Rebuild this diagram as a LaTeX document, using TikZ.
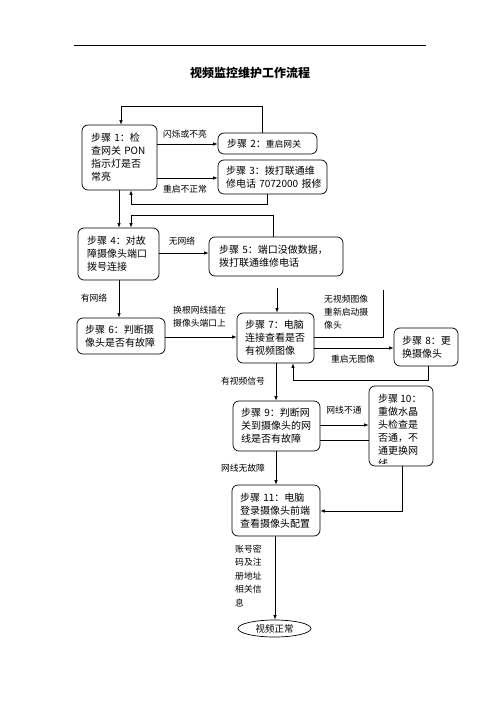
\documentclass[tikz,border=0pt]{standalone}
\usepackage{fontspec}
\setmainfont{Noto Sans CJK SC}
\usetikzlibrary{arrows.meta,shapes.geometric}
\begin{document}
\begin{tikzpicture}[x=1pt,y=-1pt,
  box/.style={draw, line width=0.7pt, rounded corners=6pt, align=left, inner xsep=9pt, inner ysep=0pt, font=\fontsize{10}{13}\selectfont, anchor=center},
  lbl/.style={font=\fontsize{8.8}{13}\selectfont, inner sep=0pt},
  arr/.style={line width=0.6pt, -{Latex[length=4.5pt,width=3.4pt]}},
  ln/.style={line width=0.6pt}]
\useasboundingbox (0,0) rectangle (500,708);
\draw[line width=0.6pt] (74,45) -- (426,45);
\node[font=\fontsize{12}{14}\selectfont\bfseries] (title) at (250,73) {视频监控维护工作流程};
% boxes
\node[box, minimum width=75pt, minimum height=65pt, text width=57pt] (b1) at (119.5,157.5) {步骤~1：检\\查网关~PON\\指示灯是否\\常亮};
\node[box, minimum width=99pt, minimum height=21pt, text width=81pt] (b2) at (267.5,143.5) {步骤~2：{\fontsize{8.8}{13}\selectfont 重启网关}};
\node[box, minimum width=109pt, minimum height=34pt, text width=93pt, inner xsep=8pt] (b3) at (272.5,177) {步骤~3：拨打联通维\\修电话~7072000~报修};
\node[box, minimum width=81pt, minimum height=52pt, text width=63pt] (b4) at (118.5,254) {步骤~4：对故\\障摄像头端口\\拨号连接};
\node[box, minimum width=134pt, minimum height=39pt, text width=114pt, inner xsep=10pt] (b5) at (276,256.5) {步骤~5：端口没做数据，\\拨打联通维修电话};
\node[box, minimum width=88pt, minimum height=36pt, text width=72pt, inner xsep=8pt] (b6) at (121,336) {步骤~6：判断摄\\像头是否有故障};
\node[box, minimum width=77pt, minimum height=50pt, text width=61pt, inner xsep=8pt] (b7) at (275.5,338) {步骤~7：电脑\\连接查看是否\\有视频图像};
\node[box, minimum width=64pt, minimum height=38pt, text width=48pt, inner xsep=8pt] (b8) at (426,347) {步骤~8：更\\换摄像头};
\node[box, minimum width=87pt, minimum height=50pt, text width=71pt, inner xsep=8pt] (b9) at (276.5,426) {步骤~9：判断网\\关到摄像头的网\\线是否有故障};
\node[box, minimum width=64pt, minimum height=80pt, text width=48pt, inner xsep=8pt] (b10) at (401,426) {};
\begin{scope}
\clip (370,387) rectangle (432,463);
\node[anchor=north west, align=left, inner sep=0pt, font=\fontsize{10}{13}\selectfont] (t10) at (378,394) {步骤~10：\\重做水晶\\头检查是\\否通，不\\通更换网\\线};
\end{scope}
\node[box, minimum width=88pt, minimum height=51pt, text width=72pt, inner xsep=8pt] (b11) at (276,510.5) {步骤~11：电脑\\登录摄像头前端\\查看摄像头配置};
\node[draw, line width=0.7pt, ellipse, minimum width=73pt, minimum height=17pt, inner sep=0pt, font=\fontsize{9.5}{12}\selectfont] (e) at (274.5,628.5) {视频正常};
% labels
\node[lbl] (l1) at (185,134) {闪烁或不亮};
\node[lbl] (l2) at (185,189) {重启不正常};
\node[lbl] (l3) at (182,241) {无网络};
\node[lbl] (l4) at (94,298) {有网络};
\node[lbl, align=left, anchor=west] (l5) at (173,316.5) {换根网线插在\\摄像头端口上};
\node[lbl, align=left, anchor=west] (l6) at (324,312) {无视频图像\\重新启动摄\\像头};
\node[lbl] (l7) at (353,359) {重启无图像};
\node[lbl] (l8) at (243,381) {有视频信号};
\node[lbl] (l9) at (344,410) {网线不通};
\node[lbl] (l10) at (243,468) {网线无故障};
\node[lbl, align=left, anchor=west, font=\fontsize{8.8}{13.5}\selectfont] (l11) at (235,576) {账号密\\码及注\\册地址\\相关信\\息};
% helper coordinates
\coordinate (h106) at (0,106);
\coordinate (h144) at (0,144);
\coordinate (h178) at (0,178);
\coordinate (h204) at (0,204);
\coordinate (h215) at (0,215);
\coordinate (h253) at (0,253);
\coordinate (h337) at (0,337);
\coordinate (h348) at (0,348);
\coordinate (h380) at (0,380);
\coordinate (h425) at (0,425);
\coordinate (h440) at (0,440);
\coordinate (h511) at (0,511);
\coordinate (v119) at (119,0);
\coordinate (v121) at (121,0);
\coordinate (v131) at (131,0);
\coordinate (v262) at (262,0);
\coordinate (v267) at (267,0);
\coordinate (v273) at (273,0);
\coordinate (v275) at (275,0);
\coordinate (v276) at (276,0);
\coordinate (v293) at (293,0);
\coordinate (v402) at (402,0);
\coordinate (v428) at (428,0);
\coordinate (f7) at (277,288);
\coordinate (f8) at (383,290);
% connectors
\draw[arr] (b1.east |- h144) -- (b2.west |- h144);
\draw[arr] (b1.east |- h178) -- (b3.west |- h178);
\draw[arr] (b2.north -| v262) -- (v262 |- h106) -- (v121 |- h106) -- (b1.north -| v121);
\draw[arr] (b3.south -| v267) -- (v267 |- h204) -- (v131 |- h204) -- (b1.south -| v131);
\draw[arr] (b1.south -| v119) -- (b4.north -| v119);
\draw[arr] (b5.north -| v273) -- (v273 |- h215) -- (v131 |- h215) -- (b4.north -| v131);
\draw[arr] (b4.east |- h253) -- (b5.west |- h253);
\draw[arr] (b4.south -| v119) -- (b6.north -| v119);
\draw[arr] (b6.east |- h337) -- (b7.west |- h337);
\draw[arr] (f7) -- (b7.north -| f7);
\draw[ln] (b7.east |- h337) -- (f8 |- h337) -- (f8);
\draw[arr] (b7.east |- h348) -- (b8.west |- h348);
\draw[arr] (b8.south -| v428) -- (v428 |- h380) -- (v293 |- h380) -- (b7.south -| v293);
\draw[arr] (b7.south -| v276) -- (b9.north -| v276);
\draw[arr] (b9.east |- h425) -- (b10.west |- h425);
\draw[ln] (b9.east |- h440) -- (b10.west |- h440);
\draw[arr] (b10.south -| v402) -- (v402 |- h511) -- (b11.east |- h511);
\draw[arr] (b9.south -| v276) -- (b11.north -| v276);
\draw[arr] (b11.south -| v275) -- (e.north -| v275);
\end{tikzpicture}
\end{document}
